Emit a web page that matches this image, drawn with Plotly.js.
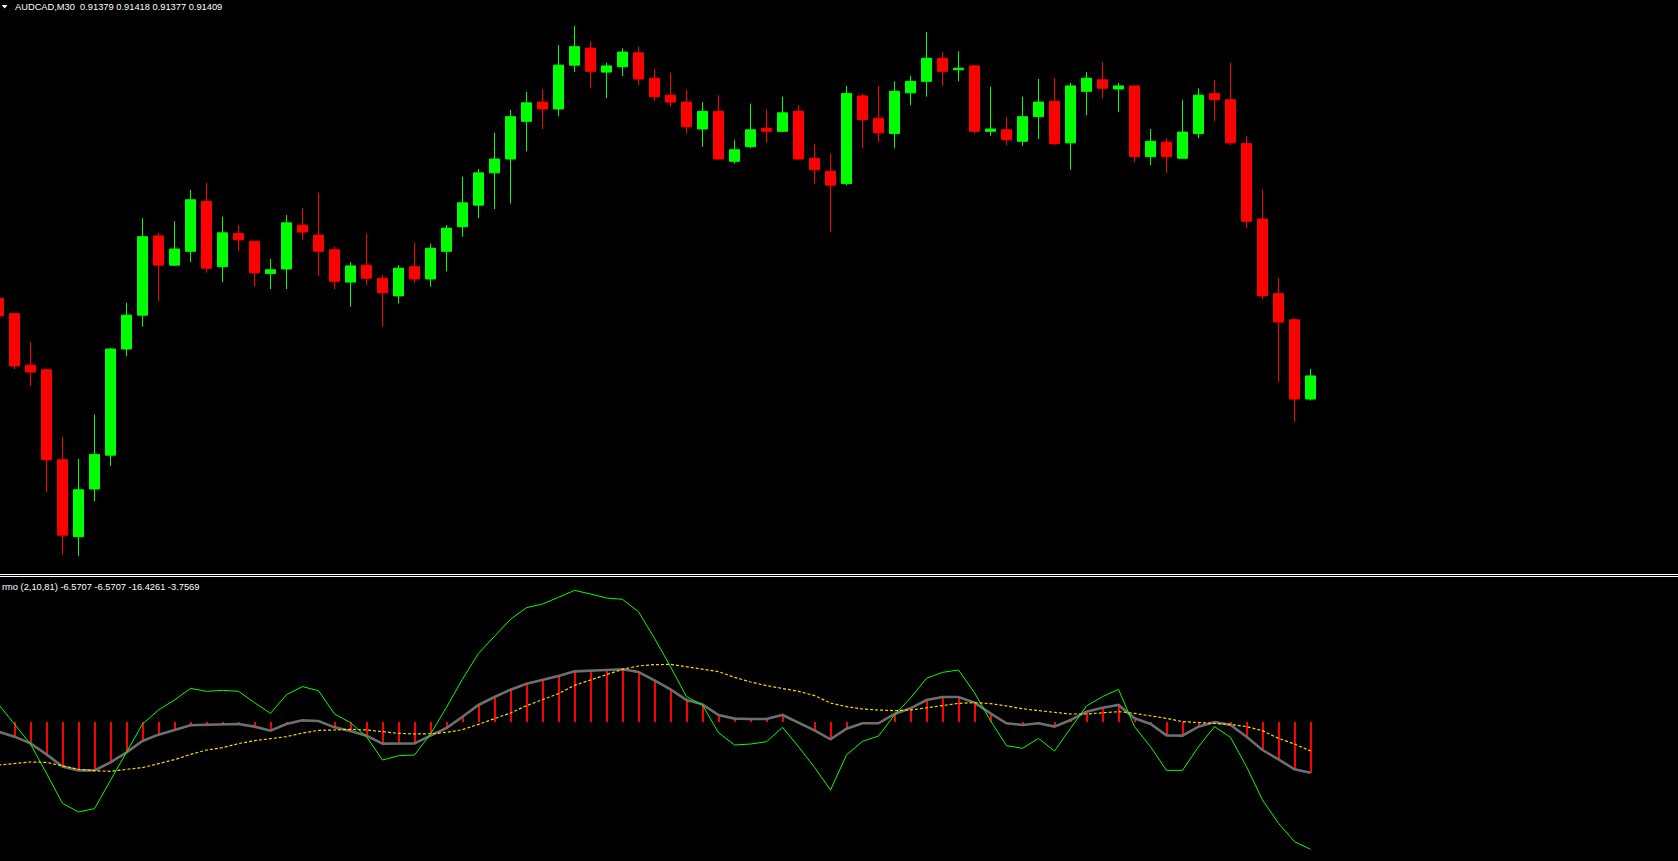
<!DOCTYPE html>
<html><head><meta charset="utf-8">
<script src="https://cdn.plot.ly/plotly-3.0.1.min.js"></script>
<style>html,body{margin:0;padding:0;background:#000;overflow:hidden}#chart{width:1678px;height:861px}</style>
</head><body><div id="chart"></div>
<script>
const symbol = 'AUDCAD,M30';
const indicatorName = 'rmo (2,10,81)';

const openP = [0.91510,0.91490,0.91423,0.91417,0.91300,0.91200,0.91262,0.91306,0.91444,0.91488,
0.91591,0.91553,0.91571,0.91636,0.91551,0.91594,0.91584,0.91542,0.91548,0.91605,
0.91592,0.91573,0.91531,0.91553,0.91536,0.91513,0.91551,0.91535,0.91571,0.91603,
0.91631,0.91673,0.91691,0.91740,0.91765,0.91756,0.91813,0.91835,0.91804,0.91811,
0.91829,0.91796,0.91774,0.91765,0.91730,0.91753,0.91688,0.91707,0.91731,0.91727,
0.91753,0.91692,0.91675,0.91659,0.91773,0.91744,0.91724,0.91777,0.91792,0.91822,
0.91807,0.91812,0.91727,0.91729,0.91714,0.91746,0.91766,0.91712,0.91779,0.91794,
0.91782,0.91786,0.91694,0.91713,0.91692,0.91724,0.91776,0.91768,0.91711,0.91613,
0.91516,0.91482,0.91379];

const highP = [0.91513,0.91490,0.91453,0.91418,0.91330,0.91301,0.91359,0.91445,0.91504,0.91614,
0.91595,0.91610,0.91651,0.91660,0.91616,0.91605,0.91584,0.91561,0.91618,0.91627,
0.91647,0.91577,0.91557,0.91594,0.91540,0.91553,0.91582,0.91581,0.91605,0.91668,
0.91678,0.91725,0.91755,0.91778,0.91782,0.91839,0.91864,0.91844,0.91816,0.91835,
0.91837,0.91808,0.91803,0.91781,0.91765,0.91774,0.91716,0.91763,0.91755,0.91772,
0.91761,0.91711,0.91698,0.91786,0.91776,0.91786,0.91792,0.91799,0.91856,0.91830,
0.91831,0.91813,0.91785,0.91746,0.91772,0.91795,0.91796,0.91790,0.91804,0.91817,
0.91790,0.91786,0.91730,0.91718,0.91768,0.91783,0.91794,0.91816,0.91721,0.91651,
0.91536,0.91484,0.91418];

const lowP = [0.91484,0.91418,0.91396,0.91258,0.91177,0.91175,0.91246,0.91292,0.91435,0.91473,
0.91506,0.91552,0.91557,0.91543,0.91531,0.91571,0.91525,0.91522,0.91522,0.91586,
0.91539,0.91522,0.91499,0.91527,0.91473,0.91503,0.91530,0.91525,0.91545,0.91590,
0.91614,0.91626,0.91633,0.91701,0.91730,0.91747,0.91804,0.91783,0.91770,0.91799,
0.91787,0.91766,0.91759,0.91724,0.91707,0.91690,0.91685,0.91705,0.91712,0.91726,
0.91690,0.91659,0.91596,0.91657,0.91705,0.91713,0.91705,0.91761,0.91772,0.91786,
0.91792,0.91724,0.91721,0.91709,0.91708,0.91717,0.91709,0.91677,0.91748,0.91770,
0.91752,0.91687,0.91683,0.91673,0.91692,0.91718,0.91740,0.91709,0.91601,0.91509,
0.91401,0.91349,0.91377];

const closeP = [0.91487,0.91422,0.91414,0.91300,0.91202,0.91261,0.91307,0.91444,0.91488,0.91590,
0.91553,0.91574,0.91638,0.91549,0.91595,0.91586,0.91543,0.91547,0.91608,0.91596,
0.91571,0.91532,0.91552,0.91536,0.91517,0.91549,0.91535,0.91575,0.91601,0.91634,
0.91673,0.91691,0.91746,0.91764,0.91756,0.91813,0.91837,0.91805,0.91812,0.91830,
0.91795,0.91772,0.91765,0.91733,0.91753,0.91691,0.91703,0.91729,0.91727,0.91751,
0.91691,0.91677,0.91657,0.91776,0.91742,0.91725,0.91779,0.91792,0.91822,0.91805,
0.91809,0.91727,0.91730,0.91716,0.91746,0.91765,0.91711,0.91786,0.91796,0.91783,
0.91786,0.91694,0.91714,0.91694,0.91726,0.91774,0.91768,0.91712,0.91610,0.91513,
0.91479,0.91379,0.91409];

// rmo histogram (also drawn as the grey line)
const rmoHist = [-1.29,-1.93,-2.79,-4.21,-5.79,-6.27,-6.27,-5.24,-3.95,-2.49,
-1.67,-1.07,-0.47,-0.39,-0.39,-0.30,-0.64,-1.16,-0.30,0.17,
0.09,-0.73,-1.20,-1.80,-2.83,-2.83,-2.79,-1.80,-0.82,0.64,
2.15,3.18,4.12,4.89,5.36,5.88,6.48,6.61,6.65,6.74,
6.39,5.32,4.16,2.79,2.23,0.86,0.39,0.34,0.34,0.86,
-0.13,-1.12,-2.27,-0.90,-0.21,-0.21,0.99,1.72,2.79,3.18,
3.18,2.45,1.07,-0.21,-0.43,-0.21,-0.64,0.21,1.29,1.80,
2.15,0.43,-0.30,-1.76,-1.80,-0.64,-0.04,-0.43,-1.93,-3.65,
-4.85,-6.14,-6.5707];

const rmoFast = [2.23,-0.30,-2.88,-6.65,-10.52,-11.63,-11.20,-7.55,-3.95,-0.30,
1.50,2.79,4.29,3.91,4.03,3.91,2.45,1.07,3.48,4.51,
3.99,0.99,-0.13,-1.93,-4.94,-4.38,-4.29,-1.59,1.85,5.49,
8.80,10.94,13.18,14.68,15.15,16.01,16.91,16.44,15.92,15.75,
14.16,10.73,7.08,3.22,2.15,-1.42,-3.00,-2.88,-2.58,-0.73,
-3.22,-5.88,-8.80,-4.29,-2.53,-1.85,0.86,3.05,5.58,6.35,
6.65,3.73,0.13,-3.09,-3.43,-2.15,-3.78,-0.86,2.02,3.22,
4.16,-0.64,-3.22,-6.27,-6.27,-3.22,-0.64,-2.02,-5.79,-10.09,
-13.09,-15.45,-16.4261];

const rmoSlow = [-5.58,-5.36,-5.19,-5.24,-5.67,-6.14,-6.31,-6.39,-6.14,-5.92,
-5.41,-4.89,-4.21,-3.65,-3.35,-2.83,-2.45,-2.23,-1.93,-1.46,
-1.12,-1.07,-0.99,-1.07,-1.29,-1.50,-1.59,-1.55,-1.37,-1.03,
-0.34,0.43,1.12,2.06,2.83,3.61,4.68,5.36,6.09,6.74,
7.17,7.34,7.38,7.08,6.74,6.44,5.71,5.11,4.64,4.29,
3.91,3.35,2.40,1.93,1.63,1.50,1.42,1.50,1.80,2.15,
2.36,2.45,2.32,2.02,1.67,1.42,1.16,0.99,0.99,1.16,
1.29,1.07,0.77,0.43,0.00,-0.13,-0.21,-0.34,-0.64,-1.16,
-2.15,-2.88,-3.7569];

// bar positions: first bar is partly off the left edge
const barIndex = openP.map((_, i) => i - 1);

const W = 1678, H = 861;
const px = x => x / W;
const py = y => 1 - y / H;
const last = a => a[a.length - 1];

const fontFam = '"Liberation Sans", Arial, sans-serif';

const traces = [
  {
    type: 'candlestick', x: barIndex, open: openP, high: highP, low: lowP, close: closeP,
    xaxis: 'x', yaxis: 'y', hoverinfo: 'skip', whiskerwidth: 0,
    line: {width: 1},
    increasing: {line: {color: '#00FF00', width: 1}, fillcolor: '#00FF00'},
    decreasing: {line: {color: '#FF0000', width: 1}, fillcolor: '#FF0000'},
    showlegend: false
  },
  {
    type: 'bar', x: barIndex, y: rmoHist, xaxis: 'x2', yaxis: 'y2', width: 0.125,
    marker: {color: '#FF0000', line: {width: 0}}, hoverinfo: 'skip', showlegend: false
  },
  {
    type: 'scatter', mode: 'lines', x: barIndex, y: rmoHist, xaxis: 'x2', yaxis: 'y2',
    line: {color: '#6E6E6E', width: 2.6}, hoverinfo: 'skip', showlegend: false
  },
  {
    type: 'scatter', mode: 'lines', x: barIndex, y: rmoFast, xaxis: 'x2', yaxis: 'y2',
    line: {color: '#00FF00', width: 1}, hoverinfo: 'skip', showlegend: false
  },
  {
    type: 'scatter', mode: 'lines', x: barIndex, y: rmoSlow, xaxis: 'x2', yaxis: 'y2',
    line: {color: '#FFD700', width: 1.2, dash: '3px,2px'}, hoverinfo: 'skip', showlegend: false
  }
];

const xr = [-14.5 / 16, -14.5 / 16 + W / 16];
const hideAx = {showgrid: false, zeroline: false, showline: false, showticklabels: false, ticks: '', fixedrange: true};

const layout = {
  width: W, height: H,
  margin: {l: 0, r: 0, t: 0, b: 0, pad: 0},
  paper_bgcolor: '#000000', plot_bgcolor: '#000000',
  showlegend: false, hovermode: false,
  boxgap: 0.375, boxgroupgap: 0, bargap: 0,
  xaxis: Object.assign({domain: [0, 1], range: xr, anchor: 'y', rangeslider: {visible: false}}, hideAx),
  yaxis: Object.assign({domain: [(H - 573) / H, 1], range: [0.911528, 0.918977], anchor: 'x'}, hideAx),
  xaxis2: Object.assign({domain: [0, 1], range: xr, anchor: 'y2', rangeslider: {visible: false}}, hideAx),
  yaxis2: Object.assign({domain: [0, (H - 577) / H], range: [-17.940, 18.627], anchor: 'x2'}, hideAx),
  shapes: [
    {type: 'line', xref: 'paper', yref: 'paper', x0: 0, x1: 1, y0: py(574.5), y1: py(574.5), line: {color: '#FFFFFF', width: 1}},
    {type: 'line', xref: 'paper', yref: 'paper', x0: 0, x1: 1, y0: py(576.5), y1: py(576.5), line: {color: '#FFFFFF', width: 1}},
    {type: 'path', xref: 'paper', yref: 'paper',
     path: `M ${px(1.7)},${py(5)} L ${px(7.5)},${py(5)} L ${px(4.6)},${py(8.4)} Z`,
     fillcolor: '#FFFFFF', line: {color: '#FFFFFF', width: 0}}
  ],
  annotations: [
    {xref: 'paper', yref: 'paper', x: px(12.7), y: py(0), xanchor: 'left', yanchor: 'top', showarrow: false,
     text: symbol + '\u00A0\u00A0' + [last(openP), last(highP), last(lowP), last(closeP)].map(v => v.toFixed(5)).join(' '),
     font: {family: fontFam, size: 9.3, color: '#FFFFFF'}},
    {xref: 'paper', yref: 'paper', x: px(0.3), y: py(580), xanchor: 'left', yanchor: 'top', showarrow: false,
     text: indicatorName + ' ' + [last(rmoHist), last(rmoHist), last(rmoFast), last(rmoSlow)].map(v => v.toFixed(4)).join(' '),
     font: {family: fontFam, size: 9.3, color: '#FFFFFF'}}
  ]
};

Plotly.newPlot('chart', traces, layout, {displayModeBar: false, staticPlot: true});
</script>
</body></html>
